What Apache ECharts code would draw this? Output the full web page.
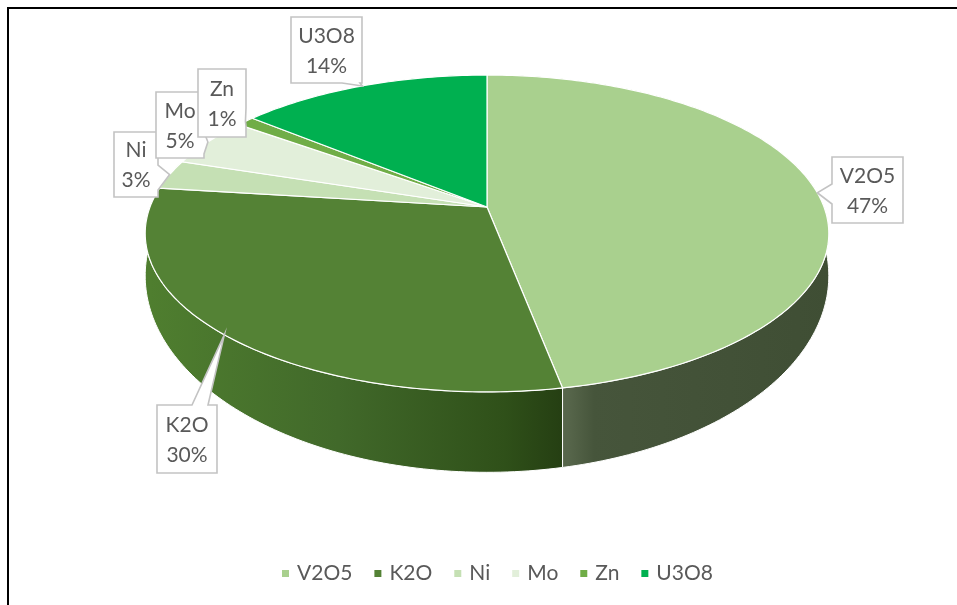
<!DOCTYPE html>
<html><head><meta charset="utf-8">
<script src="https://cdn.jsdelivr.net/npm/echarts@6/dist/echarts.min.js"></script>
<style>html,body{margin:0;padding:0;background:#fff}#c{width:957px;height:605px}</style>
</head><body><div id="c"></div>
<script>
// ---- data ----
const categories = ['V2O5', 'K2O', 'Ni', 'Mo', 'Zn', 'U3O8'];
const values = [47, 30, 3, 5, 1, 14];

// ---- styles ----
const topColors = ['#a9d08e', '#548235', '#c5e0b4', '#e2efda', '#70ad47', '#00b050'];
const FONT = 'Lato, "Open Sans", sans-serif';

// ---- 3D pie geometry (perspective projection of a disk) ----
const CX = 487, CY = 207, A = 337, B = 154, K = -0.167, D0 = 36, D1 = 31;
function P(theta, drop) {
  const u = Math.sin(theta), v = -Math.cos(theta), w = 1 + K * v;
  return [CX + A * u / w, CY + B * v / w + drop * (D0 + D1 * v) / w];
}

function sideFill(i) {
  const G = echarts.graphic.LinearGradient;
  if (i === 0) return new G(568, 0, 830, 0, [
    {offset: 0, color: '#57664b'}, {offset: 0.1, color: '#46553b'}, {offset: 1, color: '#3f4e34'}], true);
  if (i === 1) return new G(150, 0, 568, 0, [
    {offset: 0, color: '#4f7e2f'}, {offset: 0.45, color: '#41692a'}, {offset: 0.85, color: '#2f5019'}, {offset: 1, color: '#243d12'}], true);
  const darks = ['', '', '#8fa882', '#a9b59f', '#4d7a30', '#007a38'];
  return darks[i];
}

// label box layout (positions only)
const labelLayout = [
  {x: 832, y: 157, w: 71, h: 66, edge: 'left', b0: 184, b1: 204},
  {x: 157, y: 405, w: 60, h: 68, edge: 'top', b0: 192, b1: 208},
  {x: 114, y: 132, w: 44, h: 65, edge: 'right', b0: 165, b1: 190},
  {x: 156, y: 92, w: 48, h: 66, edge: 'right', b0: 132, b1: 154},
  {x: 198, y: 69, w: 48, h: 68, edge: 'right', b0: 108, b1: 126},
  {x: 291, y: 17, w: 71, h: 66, edge: 'bottom', b0: 342, b1: 360}
];

function calloutPoints(L, tx, ty) {
  const {x, y, w, h, edge, b0, b1} = L;
  const pts = [[x, y]];
  if (edge === 'top') pts.push([b0, y], [tx, ty], [b1, y]);
  pts.push([x + w, y]);
  if (edge === 'right') pts.push([x + w, b0], [tx, ty], [x + w, b1]);
  pts.push([x + w, y + h]);
  if (edge === 'bottom') pts.push([b1, y + h], [tx, ty], [b0, y + h]);
  pts.push([x, y + h]);
  if (edge === 'left') pts.push([x, b1], [tx, ty], [x, b0]);
  return pts;
}

const total = values.reduce((a, b) => a + b, 0);

function renderItem(params, api) {
  const i = params.seriesIndex;
  let acc = 0;
  for (let j = 0; j < i; j++) acc += values[j];
  const a0 = acc / total * 2 * Math.PI;
  const a1 = (acc + api.value(0)) / total * 2 * Math.PI;
  const n = Math.max(2, Math.ceil((a1 - a0) / (Math.PI / 180)));
  const topArc = [], botArc = [];
  for (let k = 0; k <= n; k++) {
    const t = a0 + (a1 - a0) * k / n;
    topArc.push(P(t, 0));
    botArc.push(P(t, 1));
  }
  const children = [];
  children.push({
    type: 'polygon', z2: 1,
    shape: {points: topArc.concat(botArc.slice().reverse())},
    style: {fill: sideFill(i), stroke: '#ffffff', lineWidth: 1}
  });
  children.push({
    type: 'polygon', z2: 10,
    shape: {points: [[CX, CY]].concat(topArc)},
    style: {fill: topColors[i], stroke: '#ffffff', lineWidth: 1.2}
  });
  const am = (a0 + a1) / 2;
  const tip = P(am, 0);
  const L = labelLayout[i];
  children.push({
    type: 'polygon', z2: 20 + i * 2,
    shape: {points: calloutPoints(L, tip[0], tip[1])},
    style: {fill: '#ffffff', stroke: '#c3c3c3', lineWidth: 1.6, lineJoin: 'miter'}
  });
  const pct = Math.round(api.value(0) / total * 100) + '%';
  children.push({
    type: 'text', z2: 21 + i * 2,
    style: {
      text: categories[i] + '\n' + pct,
      x: L.x + L.w / 2, y: L.y + L.h / 2 + 1,
      align: 'center', verticalAlign: 'middle',
      fontSize: 21, fontFamily: FONT, lineHeight: 30, fill: '#595959'
    }
  });
  return {type: 'group', children};
}

const chart = echarts.init(document.getElementById('c'), null, {renderer: 'canvas'});
chart.setOption({
  animation: false,
  backgroundColor: '#ffffff',
  legend: {
    data: categories,
    top: 558, left: 277,
    icon: 'rect', itemWidth: 7, itemHeight: 7, itemGap: 22,
    selectedMode: false,
    textStyle: {fontSize: 21, fontFamily: FONT, color: '#595959', padding: [0, 0, 0, 3]}
  },
  graphic: [
    {type: 'line', z: 100, shape: {x1: 7, y1: 8, x2: 957, y2: 8}, style: {stroke: '#000', lineWidth: 2}},
    {type: 'line', z: 100, shape: {x1: 8, y1: 7, x2: 8, y2: 605}, style: {stroke: '#000', lineWidth: 2}}
  ],
  series: categories.map((name, i) => ({
    type: 'custom',
    name: name,
    coordinateSystem: 'none',
    itemStyle: {color: topColors[i]},
    renderItem: renderItem,
    data: [[values[i]]]
  }))
});
</script>
</body></html>
